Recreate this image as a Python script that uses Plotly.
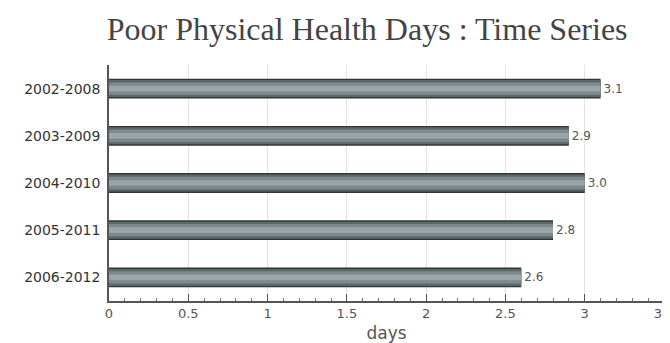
import plotly.graph_objects as go

categories = ["2002-2008", "2003-2009", "2004-2010", "2005-2011", "2006-2012"]
values = [3.1, 2.9, 3.0, 2.8, 2.6]
value_labels = ["3.1", "2.9", "3.0", "2.8", "2.6"]
x_tickvals = [0, 0.5, 1, 1.5, 2, 2.5, 3, 3.5]
x_ticktext = ["0", "0.5", "1", "1.5", "2", "2.5", "3", "3.5"]

fig = go.Figure()
# layered bars to imitate the cylindrical gradient
layers = [
    (0.42, "#2e3638"),
    (0.36, "#5d686b"),
    (0.26, "#7d898c"),
    (0.12, "#9aa5a8"),
]
for i, (w, col) in enumerate(layers):
    fig.add_trace(go.Bar(
        x=values, y=categories, orientation="h", width=w,
        marker=dict(color=col, line=dict(width=0)),
        text=value_labels if i == 0 else None,
        textposition="outside" if i == 0 else "none",
        textfont=dict(family="DejaVu Sans", size=12, color="#555555"),
        cliponaxis=False, hoverinfo="skip", showlegend=False,
    ))

fig.update_layout(
    width=670, height=343,
    barmode="overlay",
    margin=dict(l=101, r=14, t=57, b=50),
    paper_bgcolor="white", plot_bgcolor="white",
    title=dict(text="Poor Physical Health Days : Time Series",
               font=dict(family="Liberation Serif", size=32, color="#444444"),
               x=0.536, xanchor="center", y=0.94, yanchor="middle"),
    xaxis=dict(range=[0, 3.5], tickvals=x_tickvals, ticktext=x_ticktext,
               automargin=False,
               showgrid=True, gridcolor="#e4e4e4", gridwidth=1,
               showline=True, linecolor="#555555", linewidth=1.5,
               ticks="inside", ticklen=7, tickcolor="#555555",
               minor=dict(dtick=0.1, ticks="inside", ticklen=3, tickcolor="#777777", showgrid=False),
               tickfont=dict(family="DejaVu Sans", size=13, color="#555555"),
               title=dict(text="days", font=dict(family="DejaVu Sans", size=17, color="#555555"), standoff=7),
               zeroline=False),
    yaxis=dict(categoryorder="array", categoryarray=categories[::-1],
               automargin=False,
               showline=True, linecolor="#555555", linewidth=1.5,
               ticks="", showgrid=False,
               tickfont=dict(family="DejaVu Sans", size=14, color="#333333"),
               ticklabelstandoff=4),
    bargap=0.58,
)

fig.write_html("out.html")
